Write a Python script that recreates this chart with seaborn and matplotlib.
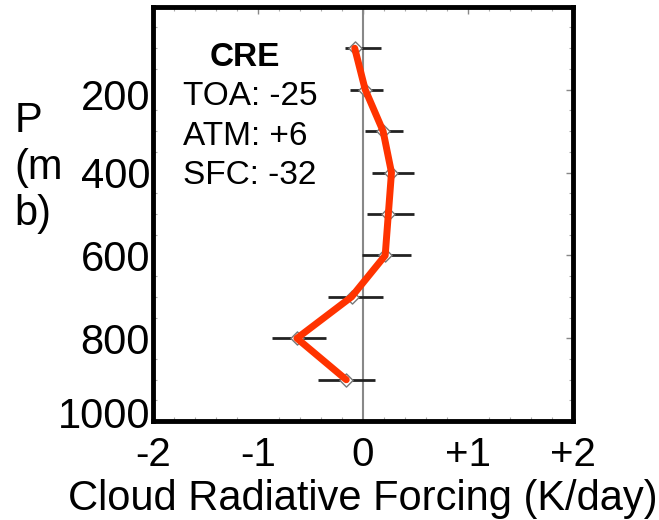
import matplotlib
matplotlib.use("Agg")
import matplotlib.pyplot as plt
import matplotlib.transforms as mtransforms
import seaborn as sns
import pandas as pd
from matplotlib.ticker import MultipleLocator

# data
pressure = [100, 200, 300, 400, 500, 600, 700, 800, 900]
forcing = [-0.08, 0.02, 0.19, 0.27, 0.24, 0.21, -0.11, -0.63, -0.16]
err_lo = [-0.17, -0.12, 0.02, 0.08, 0.04, -0.01, -0.33, -0.87, -0.43]
err_hi = [0.17, 0.19, 0.38, 0.48, 0.48, 0.46, 0.19, -0.35, 0.11]
x_ticks = [-2, -1, 0, 1, 2]
x_ticklabels = ["-2", "-1", "0", "+1", "+2"]
y_ticks = [200, 400, 600, 800, 1000]
cre_lines = ["TOA: -25", "ATM: +6", "SFC: -32"]

df = pd.DataFrame({"P": pressure, "CRF": forcing})

sns.set_style("white")
plt.rcParams["font.family"] = ["Liberation Sans", "DejaVu Sans"]
plt.rcParams["text.color"] = "black"
plt.rcParams["xtick.labelcolor"] = "black"
plt.rcParams["ytick.labelcolor"] = "black"
plt.rcParams["axes.labelcolor"] = "black"

fig = plt.figure(figsize=(6.59, 5.2), dpi=100)
ax = fig.add_axes([0.232, 0.190, 0.638, 0.797])

# zero line
ax.axvline(0, color="#888888", lw=1.5, zorder=1)

# horizontal error bars
ax.hlines(pressure, err_lo, err_hi, color="#222222", lw=2, zorder=2)

# hollow diamond markers
sns.scatterplot(data=df, x="CRF", y="P", marker="D", s=45, facecolor="white",
                edgecolor="#777777", linewidth=1.0, ax=ax, zorder=3)

# red profile line
sns.lineplot(data=df, x="CRF", y="P", sort=False, color="#ff3300", lw=5,
             ax=ax, zorder=4)

ax.set_xlim(-2, 2)
ax.set_ylim(1000, 0)
ax.set_xticks(x_ticks)
ax.set_xticklabels(x_ticklabels, fontsize=29)
ax.set_yticks(y_ticks)
ax.set_yticklabels([str(v) for v in y_ticks], fontsize=30)
ax.yaxis.set_minor_locator(MultipleLocator(50))
ax.xaxis.set_minor_locator(MultipleLocator(0.2))
ax.tick_params(axis="x", which="major", pad=11)
ax.tick_params(axis="y", which="major", pad=2)
ax.tick_params(axis="both", which="major", direction="in", length=5, width=1,
               color="#888888", top=True, right=True)
ax.tick_params(axis="both", which="minor", direction="in", length=3, width=0.8,
               color="#aaaaaa", top=True, right=True, left=True, bottom=True)
for s in ax.spines.values():
    s.set_linewidth(3.5)
    s.set_color("black")

# end labels on the pressure axis sit a little inward, as in the original
ylabels = ax.get_yticklabels()
for lab, dy_px in [(ylabels[0], -5), (ylabels[-1], 9)]:
    off = mtransforms.ScaledTranslation(0, dy_px / 100, fig.dpi_scale_trans)
    lab.set_transform(lab.get_transform() + off)

ax.set_xlabel("Cloud Radiative Forcing (K/day)", fontsize=30, labelpad=3)
ax.set_ylabel("")
fig.text(0.022, 0.805, "P\n(m\nb)", fontsize=30, ha="left", va="top",
         linespacing=1.2)

# CRE annotation
ax.text(-1.13, 123, "CRE", fontsize=24, fontweight="bold", ha="center", va="center")
for i, t in enumerate(cre_lines):
    ax.text(-1.71, 217 + i * 95, t, fontsize=24, ha="left", va="center")

fig.savefig("out.png", dpi=100)
